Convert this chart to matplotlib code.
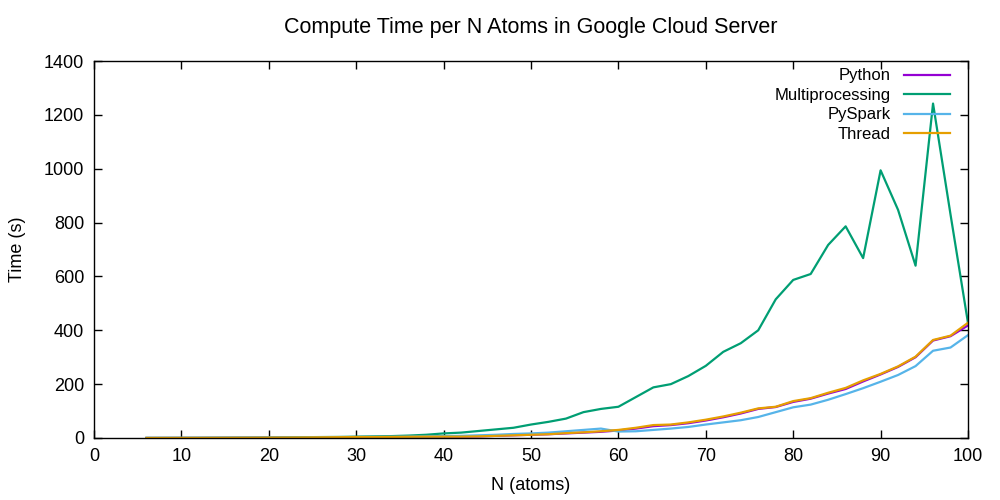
import numpy as np
import matplotlib
matplotlib.use("Agg")
import matplotlib.pyplot as plt

plt.rcParams['font.family'] = ['Liberation Sans', 'DejaVu Sans']

# atoms, every 2 from 6 to 100
n_atoms = list(range(6, 101, 2))

python_t = [0.1, 0.2, 0.3, 0.4, 0.6, 0.8, 1.0, 1.3, 1.6, 2, 2.5, 3, 3.5, 3.5, 4, 4.5,
            5, 5, 5, 6, 8, 10, 12, 14, 17, 20, 23, 28, 35, 44, 48, 55, 65, 77, 91, 108,
            115, 134, 146, 165, 182, 210, 236, 264, 300, 362, 378, 418]
multi_t = [0.3, 0.4, 0.5, 0.6, 0.8, 1, 1.2, 1.5, 2, 3, 3.5, 4, 5, 6, 7, 9,
           12, 17, 20, 26, 32, 38, 50, 60, 72, 96, 108, 116, 152, 188, 200, 230, 268, 320, 352, 400,
           515, 587, 609, 717, 786, 668, 994, 847, 640, 1242, 830, 427]
spark_t = [0.2, 0.3, 0.4, 0.5, 0.6, 0.8, 1.0, 1.2, 1.5, 2, 2.5, 3, 3.5, 4, 4.5, 5,
           6, 7, 8, 10, 12, 15, 17, 20, 25, 30, 35, 24, 25, 30, 35, 41, 50, 58, 66, 78,
           96, 114, 124, 142, 163, 185, 209, 234, 267, 324, 336, 382]
thread_t = [0.1, 0.2, 0.3, 0.4, 0.6, 0.8, 1.0, 1.3, 1.6, 2, 2.5, 3, 3.5, 3.5, 4, 4.5,
            5, 5, 5, 6, 8, 10, 12, 14, 18, 21, 25, 30, 38, 48, 50, 58, 68, 80, 94, 110,
            116, 137, 148, 168, 186, 214, 238, 266, 302, 364, 380, 428]

fig = plt.figure(figsize=(10, 5), dpi=100)
ax = fig.add_axes([0.094, 0.124, 0.874, 0.754])

ax.plot(n_atoms, python_t, color='#9400D3', lw=1.6, label='Python')
ax.plot(n_atoms, multi_t, color='#009E73', lw=1.6, label='Multiprocessing')
ax.plot(n_atoms, spark_t, color='#56B4E9', lw=1.6, label='PySpark')
ax.plot(n_atoms, thread_t, color='#E69F00', lw=1.6, label='Thread')

ax.set_xlim(0, 100)
ax.set_ylim(0, 1400)
ax.set_xticks(range(0, 101, 10))
ax.set_yticks(range(0, 1401, 200))
ax.tick_params(direction='in', length=6, width=1, top=True, right=True,
               labelsize=13, pad=7)
for s in ax.spines.values():
    s.set_linewidth(1)

ax.set_title('Compute Time per N Atoms in Google Cloud Server', fontsize=15.5, pad=20)
ax.set_xlabel('N (atoms)', fontsize=13, labelpad=9)
ax.set_ylabel('Time (s)', fontsize=13, labelpad=13)

ax.legend(loc='upper right', bbox_to_anchor=(0.987, 0.998), frameon=False,
          markerfirst=False, fontsize=12, handlelength=2.75, labelspacing=0.27,
          borderaxespad=0, handletextpad=0.8)

fig.savefig('out.png', dpi=100)
